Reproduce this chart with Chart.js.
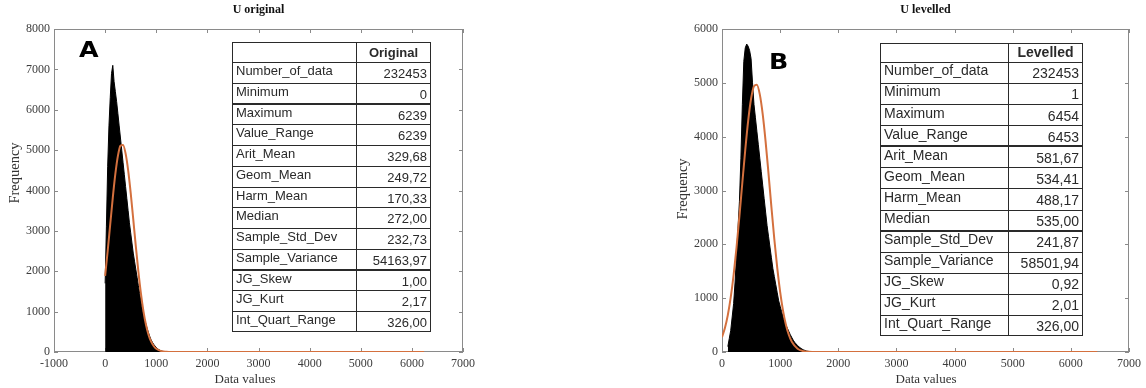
<!DOCTYPE html>
<html>
<head>
<meta charset="utf-8">
<script src="https://cdn.jsdelivr.net/npm/chart.js@4"></script>
<style>
  body { margin: 0; background: #fff; }
  .panel { position: absolute; top: 0; width: 573px; height: 388px; }
</style>
</head>
<body>
<div class="panel" style="left:0"><canvas id="chartA" width="573" height="388"></canvas></div>
<div class="panel" style="left:573px"><canvas id="chartB" width="573" height="388"></canvas></div>
<script>
// ---------------- data ----------------
// histogram A: bin positions (width 25) and frequency, last point closes the histogram
const edgesA = [0,25,50,75,100,125,150,175,200,225,250,275,300,325,350,375,400,425,450,475,
  500,525,550,575,600,625,650,675,700,725,750,775,800,825,850,875,900,925,950,975,
  1000,1025,1050,1075,1100,1125,1150,1175,1200,1225,1250,1275,1300,1325];
const countsA = [1700,3100,4600,5600,6300,6900,7100,6700,6450,6200,5900,5600,5300,5000,4700,4400,4100,3800,3500,3200,
  2950,2700,2450,2250,2050,1850,1650,1450,1250,1080,930,800,680,570,470,380,300,240,190,150,
  110,80,60,40,28,18,12,8,5,4,3,2,1,0];
// fitted curve A
const fitXA = [0,50,100,150,200,250,300,350,400,450,500,550,600,650,700,750,800,850,900,950,1000,1100,1200,1300,6239];
const fitYA = [1888,2501,3165,3823,4409,4857,5108,5130,4920,4506,3940,3290,2623,1997,1452,1008,668,423,256,148,81,22,5,0,0];

// histogram B
const edgesB = [100,125,150,175,200,225,250,275,300,325,350,375,400,425,450,475,
  500,525,550,575,600,625,650,675,700,725,750,775,800,825,850,875,900,925,950,975,
  1000,1025,1050,1075,1100,1125,1150,1175,1200,1225,1250,1275,1300,1325,1350,1375,
  1400,1425,1450,1475,1500,1525,1550,1575];
const countsB = [100,250,400,650,900,1300,1800,2300,2800,3600,4600,5400,5650,5720,5680,5600,
  5450,5000,4600,4350,4100,3850,3600,3350,3100,2850,2600,2350,2150,1950,1750,1550,1400,1250,1100,950,
  850,750,650,570,500,440,380,320,270,220,180,150,120,95,75,55,
  40,30,20,14,9,5,3,0];
// fitted curve B
const fitXB = [0,50,100,150,200,250,300,350,400,450,500,550,600,650,700,750,800,850,900,950,1000,1050,1100,1150,1200,1300,1400,1500,1600,6454];
const fitYB = [276,445,686,1013,1434,1945,2528,3148,3756,4294,4704,4938,4966,4785,4418,3909,3314,2691,2094,1562,1116,764,501,315,190,61,16,4,0,0];

// statistics tables
const statNames = ['Number_of_data','Minimum','Maximum','Value_Range','Arit_Mean','Geom_Mean','Harm_Mean',
  'Median','Sample_Std_Dev','Sample_Variance','JG_Skew','JG_Kurt','Int_Quart_Range'];
const statsOriginal = ['232453','0','6239','6239','329,68','249,72','170,33','272,00','232,73','54163,97','1,00','2,17','326,00'];
const statsLevelled = ['232453','1','6454','6453','581,67','534,41','488,17','535,00','241,87','58501,94','0,92','2,01','326,00'];

const fitColor = 'rgb(212,112,62)';
const serif = '"Liberation Serif", "Times New Roman", serif';

// ---------------- helpers ----------------
function toPoints(xs, ys) {
  return xs.map((x, i) => ({ x: x, y: ys[i] }));
}

function drawTable(ctx, t, header, names, values) {
  const rowH = (t.bottom - t.headBottom) / names.length;
  ctx.fillStyle = '#fff';
  ctx.fillRect(t.left, t.top, t.right - t.left, t.bottom - t.top);

  ctx.strokeStyle = '#2a2a2a';
  ctx.lineWidth = 1;
  ctx.strokeRect(t.left + 0.5, t.top + 0.5, t.right - t.left - 1, t.bottom - t.top - 1);
  ctx.beginPath();
  ctx.moveTo(t.divider + 0.5, t.top);
  ctx.lineTo(t.divider + 0.5, t.bottom);
  for (let i = 0; i < names.length; i++) {
    const yy = Math.round(t.headBottom + i * rowH) + 0.5;
    ctx.moveTo(t.left, yy);
    ctx.lineTo(t.right, yy);
  }
  ctx.stroke();
  // a few darker separators, as in the scan
  ctx.lineWidth = 2;
  ctx.beginPath();
  t.thick.forEach(i => {
    const yy = Math.round(t.headBottom + i * rowH);
    ctx.moveTo(t.left, yy);
    ctx.lineTo(t.right, yy);
  });
  ctx.stroke();

  ctx.fillStyle = '#2a2a2a';
  ctx.textBaseline = 'middle';
  ctx.font = 'bold ' + t.fontSize + 'px "Liberation Sans", Arial, sans-serif';
  ctx.textAlign = 'center';
  ctx.fillText(header, (t.divider + t.right) / 2, (t.top + t.headBottom) / 2 + 1);
  ctx.font = t.fontSize + 'px "Liberation Sans", Arial, sans-serif';
  names.forEach((n, i) => {
    const mid = t.headBottom + (i + 0.5) * rowH;
    ctx.textAlign = 'left';
    ctx.fillText(n, t.left + 4, mid - 1);
    ctx.textAlign = 'right';
    ctx.fillText(values[i], t.right - 4, mid + 2);
  });
}

// titles, letter, box, inward ticks, table
const decoPlugin = {
  id: 'deco',
  beforeDatasetsDraw(chart, args, o) {
    const { ctx, chartArea: a, scales } = chart;
    ctx.save();
    ctx.strokeStyle = '#8a8a8a';
    ctx.lineWidth = 1;
    ctx.beginPath();
    scales.x.ticks.forEach(t => {
      const px = Math.round(scales.x.getPixelForValue(t.value)) + 0.5;
      ctx.moveTo(px, a.bottom); ctx.lineTo(px, a.bottom - 4);
      ctx.moveTo(px, a.top); ctx.lineTo(px, a.top + 4);
    });
    scales.y.ticks.forEach(t => {
      const py = Math.round(scales.y.getPixelForValue(t.value)) + 0.5;
      ctx.moveTo(a.left, py); ctx.lineTo(a.left + 4, py);
      ctx.moveTo(a.right, py); ctx.lineTo(a.right - 4, py);
    });
    ctx.stroke();
    ctx.strokeRect(a.left + 0.5, a.top + 0.5, a.right - a.left - 1, a.bottom - a.top - 1);
    ctx.restore();
  },
  afterDraw(chart, args, o) {
    const { ctx, chartArea: a } = chart;
    ctx.save();
    ctx.textAlign = 'center';
    ctx.textBaseline = 'middle';
    ctx.fillStyle = '#111';
    ctx.font = 'bold 12px ' + serif;
    ctx.fillText(o.title, (a.left + a.right) / 2, o.titleY);

    ctx.fillStyle = '#333';
    ctx.font = '13px ' + serif;
    ctx.fillText(o.xTitle, o.xTitleX, o.xTitleY);
    ctx.save();
    ctx.translate(o.yTitleX, o.yTitleY);
    ctx.rotate(-Math.PI / 2);
    ctx.font = '14.5px ' + serif;
    ctx.fillText(o.yTitle, 0, 0);
    ctx.restore();

    // heavy panel letter, widened a little
    ctx.save();
    ctx.translate(o.letterX, o.letterY);
    ctx.scale(1.15, 1);
    ctx.fillStyle = '#000';
    ctx.textAlign = 'left';
    ctx.textBaseline = 'top';
    ctx.font = 'bold 22px "DejaVu Sans", Arial, sans-serif';
    ctx.fillText(o.letter, 0, 0);
    ctx.restore();

    drawTable(ctx, o.table, o.header, statNames, o.values);
    ctx.restore();
  }
};

function makeChart(id, edges, counts, fitX, fitY, xMin, yMax, pad, deco) {
  return new Chart(document.getElementById(id), {
    type: 'line',
    data: {
      datasets: [
        {
          // normal fit
          data: toPoints(fitX, fitY),
          borderColor: fitColor,
          borderWidth: 2,
          pointRadius: 0,
          cubicInterpolationMode: 'monotone',
          order: 0,
        },
        {
          // histogram outline, filled solid down to zero
          data: toPoints(edges, counts),
          fill: 'origin',
          backgroundColor: '#000',
          borderColor: '#000',
          borderWidth: 1,
          pointRadius: 0,
          tension: 0,
          order: 1,
        },
      ],
    },
    options: {
      responsive: false,
      animation: false,
      layout: { padding: pad },
      plugins: {
        legend: { display: false },
        tooltip: { enabled: false },
        deco: deco,
      },
      scales: {
        x: {
          type: 'linear',
          min: xMin,
          max: 7000,
          grid: { display: false, drawTicks: false },
          border: { display: false },
          ticks: {
            stepSize: 1000,
            padding: 5,
            maxRotation: 0,
            autoSkip: false,
            color: '#3c3c3c',
            font: { family: serif, size: 12 },
            callback: v => String(v),
          },
          afterFit: s => { s.height = 36; },
        },
        y: {
          min: 0,
          max: yMax,
          grid: { display: false, drawTicks: false },
          border: { display: false },
          ticks: {
            stepSize: 1000,
            padding: 4,
            color: '#3c3c3c',
            font: { family: serif, size: 12 },
            callback: v => String(v),
          },
          afterFit: s => { s.width = 40; },
        },
      },
    },
    plugins: [decoPlugin],
  });
}

makeChart('chartA', edgesA, countsA, fitXA, fitYA, -1000, 8000,
  { left: 14, right: 110, top: 29, bottom: 0 },
  {
    title: 'U original', titleY: 10,
    xTitle: 'Data values', xTitleX: 245, xTitleY: 380,
    yTitle: 'Frequency', yTitleX: 15, yTitleY: 173,
    letter: 'A', letterX: 79, letterY: 40,
    header: 'Original', values: statsOriginal,
    table: { left: 232, right: 431, divider: 356, top: 42, headBottom: 62, bottom: 332, fontSize: 13, thick: [2, 10] },
  });

makeChart('chartB', edgesB, countsB, fitXB, fitYB, 0, 6000,
  { left: 109, right: 14, top: 29, bottom: 0 },
  {
    title: 'U levelled', titleY: 10,
    xTitle: 'Data values', xTitleX: 353, xTitleY: 380,
    yTitle: 'Frequency', yTitleX: 110, yTitleY: 189,
    letter: 'B', letterX: 196, letterY: 52,
    header: 'Levelled', values: statsLevelled,
    table: { left: 307, right: 510, divider: 435, top: 43, headBottom: 62, bottom: 336, fontSize: 14, thick: [4, 8] },
  });
</script>
</body>
</html>
